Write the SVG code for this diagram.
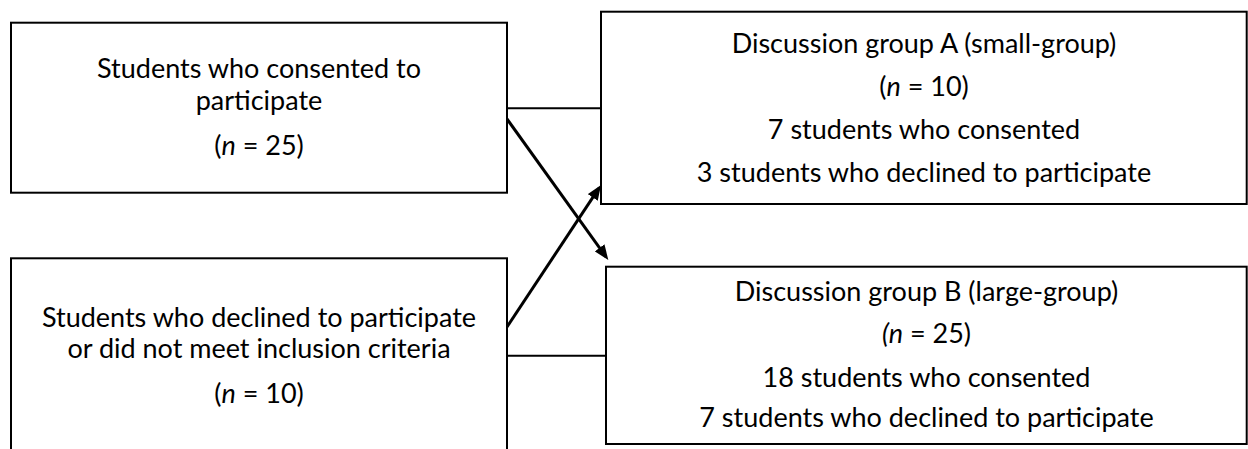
<svg xmlns="http://www.w3.org/2000/svg" width="1248" height="449" viewBox="0 0 1248 449">
  <style>
    .box { fill: #ffffff; stroke: #000000; stroke-width: 2; }
    .t { font-family: Lato, "Open Sans", "Liberation Sans", sans-serif; font-size: 27px; fill: #000000; text-anchor: middle; }
    .i { font-style: italic; }
    .link { stroke: #000000; stroke-width: 2; fill: none; }
    .arrow { stroke: #000000; stroke-width: 3; fill: none; marker-end: url(#ah); }
  </style>
  <defs>
    <marker id="ah" markerUnits="userSpaceOnUse" markerWidth="15" markerHeight="12" refX="11" refY="6" orient="auto">
      <path d="M0,0 L15,6 L0,12 z" fill="#000000"/>
    </marker>
  </defs>
  <rect width="1248" height="449" fill="#ffffff"/>

  <g id="connectors">
    <line class="link" x1="507" y1="108.3" x2="601" y2="108.3"/>
    <line class="link" x1="507" y1="355.7" x2="606" y2="355.7"/>
    <line class="arrow" x1="507" y1="119" x2="606.0" y2="256.8"/>
    <line class="arrow" x1="507" y1="327" x2="598.8" y2="188.3"/>
  </g>

  <g id="consented">
    <rect class="box" x="11" y="22.7" width="496" height="170"/>
    <text class="t" x="259" y="78">Students who consented to</text>
    <text class="t" x="259" y="110">participate</text>
    <text class="t" x="259" y="155">(<tspan class="i">n</tspan> = 25)</text>
  </g>

  <g id="declined">
    <rect class="box" x="11" y="258.3" width="496" height="210"/>
    <text class="t" x="259" y="326.7">Students who declined to participate</text>
    <text class="t" x="259" y="358.3">or did not meet inclusion criteria</text>
    <text class="t" x="259" y="403.3">(<tspan class="i">n</tspan> = 10)</text>
  </g>

  <g id="groupA">
    <rect class="box" x="601" y="11.7" width="645.7" height="192.3"/>
    <text class="t" x="924" y="53">Discussion group A (small-group)</text>
    <text class="t" x="924" y="95.5">(<tspan class="i">n</tspan> = 10)</text>
    <text class="t" x="924" y="138.5">7 students who consented</text>
    <text class="t" x="924" y="181.5">3 students who declined to participate</text>
  </g>

  <g id="groupB">
    <rect class="box" x="606" y="266.7" width="640.7" height="177.3"/>
    <text class="t" x="926.5" y="300.7">Discussion group B (large-group)</text>
    <text class="t" x="926.5" y="343.3"><tspan class="i">(n</tspan> = 25)</text>
    <text class="t" x="926.5" y="386.7">18 students who consented</text>
    <text class="t" x="926.5" y="426.7">7 students who declined to participate</text>
  </g>
</svg>
